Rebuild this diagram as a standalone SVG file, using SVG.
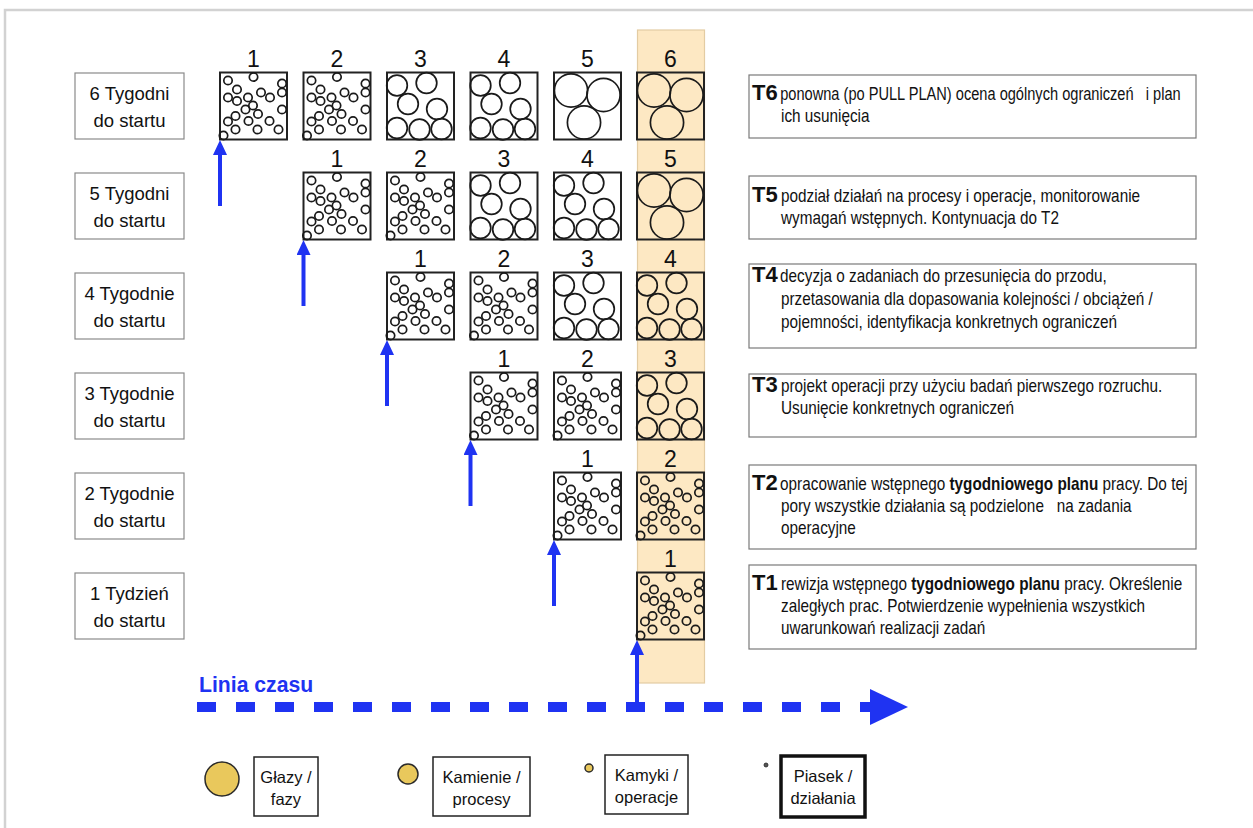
<svg xmlns="http://www.w3.org/2000/svg" xmlns:xlink="http://www.w3.org/1999/xlink" width="1253" height="828" viewBox="0 0 1253 828">
  <style>
    .frame { fill: none; stroke: #d2d2d2; stroke-width: 2.5; }
    .band { fill: #fde8c3; stroke: #e3cca3; stroke-width: 1.2; }
    .box { fill: none; stroke: #222; stroke-width: 2; }
    .c { fill: none; stroke: #1a1a1a; stroke-width: 1.7; }
    .num { font-family: "Liberation Sans", Arial, sans-serif; font-size: 23px; fill: #111; text-anchor: middle; }
    .lbl { fill: #fff; stroke: #8a8a8a; stroke-width: 1.2; }
    .lbltxt { font-family: "Liberation Sans", Arial, sans-serif; font-size: 18.5px; fill: #111; text-anchor: middle; }
    .desc { fill: #fff; stroke: #7a7a7a; stroke-width: 1.2; }
    .dtxt { font-family: "Liberation Sans", Arial, sans-serif; font-size: 17.5px; fill: #111; white-space: pre; }
    .tag { font-family: "Liberation Sans", Arial, sans-serif; font-size: 22px; font-weight: bold; fill: #111; }
    .b { font-weight: bold; }
    .up { stroke: #1f33f2; stroke-width: 4; fill: none; }
    .time { stroke: #1f33f2; stroke-width: 10; stroke-dasharray: 19 20; fill: none; }
    .timetxt { font-family: "Liberation Sans", Arial, sans-serif; font-size: 21.2px; font-weight: bold; fill: #1f33f2; }
    .leg { fill: #fff; stroke: #222; stroke-width: 1.5; }
    .legthick { fill: #fff; stroke: #111; stroke-width: 3.5; }
    .legtxt { font-family: "Liberation Sans", Arial, sans-serif; font-size: 16.5px; fill: #111; text-anchor: middle; }
    .gold { fill: #e9c85c; stroke: #2a2a2a; stroke-width: 1.5; }
  </style>
  <defs>
    <!-- sand: many small stones (operations) -->
    <g id="sand">
      <circle class="c" cx="8" cy="8" r="4.2"/>
      <circle class="c" cx="33.5" cy="4.5" r="4.2"/>
      <circle class="c" cx="62" cy="11" r="4.2"/>
      <circle class="c" cx="62" cy="20" r="4.2"/>
      <circle class="c" cx="17" cy="17" r="4.2"/>
      <circle class="c" cx="8" cy="25" r="4.2"/>
      <circle class="c" cx="17" cy="28.5" r="4.2"/>
      <circle class="c" cx="28" cy="25" r="4.2"/>
      <circle class="c" cx="41" cy="20" r="4.2"/>
      <circle class="c" cx="50" cy="25" r="4.2"/>
      <circle class="c" cx="25.5" cy="37" r="4.2"/>
      <circle class="c" cx="33" cy="33" r="4.2"/>
      <circle class="c" cx="38" cy="41.5" r="4.2"/>
      <circle class="c" cx="62" cy="37" r="4.2"/>
      <circle class="c" cx="15.5" cy="43.5" r="4.2"/>
      <circle class="c" cx="8" cy="49" r="4.2"/>
      <circle class="c" cx="28.5" cy="48.5" r="4.2"/>
      <circle class="c" cx="49.5" cy="48.5" r="4.2"/>
      <circle class="c" cx="15.5" cy="57" r="4.2"/>
      <circle class="c" cx="37.5" cy="57" r="4.2"/>
      <circle class="c" cx="58.5" cy="57" r="4.2"/>
      <circle class="c" cx="3.5" cy="63" r="4.2"/>
    </g>
    <!-- stones: medium circles (processes) -->
    <g id="stones">
      <circle class="c" cx="10" cy="13" r="10.3"/>
      <circle class="c" cx="39.5" cy="10.5" r="10.3"/>
      <circle class="c" cx="21" cy="31.5" r="10.3"/>
      <circle class="c" cx="50" cy="36.5" r="10.3"/>
      <circle class="c" cx="10" cy="55.5" r="10.3"/>
      <circle class="c" cx="32.5" cy="57" r="10.3"/>
      <circle class="c" cx="54.5" cy="56.5" r="10.3"/>
    </g>
    <!-- boulders: large circles (phases) -->
    <g id="boulders">
      <circle class="c" cx="17" cy="18" r="16.6"/>
      <circle class="c" cx="49.5" cy="22.5" r="16.6"/>
      <circle class="c" cx="30" cy="50" r="16.6"/>
    </g>
    <marker id="headUp" viewBox="0 0 15 14" refX="3" refY="7" markerWidth="15" markerHeight="14" markerUnits="userSpaceOnUse" orient="auto">
      <path d="M0,0 L15,7 L0,14 Z" fill="#1f33f2"/>
    </marker>
    <marker id="headTime" viewBox="0 0 38 36" refX="0" refY="18" markerWidth="38" markerHeight="36" markerUnits="userSpaceOnUse" orient="auto">
      <path d="M0,0 L38,18 L0,36 Z" fill="#1f33f2"/>
    </marker>
  </defs>

  <rect x="0" y="0" width="1253" height="828" fill="#fff"/>
  <rect class="frame" x="5" y="10" width="1262" height="840"/>

  <!-- highlighted current-week column -->
  <rect id="current-column" class="band" x="637.5" y="30" width="67" height="653"/>

  <!-- row labels -->
  <g id="row-6w"><rect class="lbl" x="75" y="73" width="109" height="66"/><text class="lbltxt" x="129.5" y="100">6 Tygodni</text><text class="lbltxt" x="129.5" y="127">do startu</text></g>
  <g id="row-5w"><rect class="lbl" x="75" y="173" width="109" height="66"/><text class="lbltxt" x="129.5" y="200">5 Tygodni</text><text class="lbltxt" x="129.5" y="227">do startu</text></g>
  <g id="row-4w"><rect class="lbl" x="75" y="273" width="109" height="66"/><text class="lbltxt" x="129.5" y="300">4 Tygodnie</text><text class="lbltxt" x="129.5" y="327">do startu</text></g>
  <g id="row-3w"><rect class="lbl" x="75" y="373" width="109" height="66"/><text class="lbltxt" x="129.5" y="400">3 Tygodnie</text><text class="lbltxt" x="129.5" y="427">do startu</text></g>
  <g id="row-2w"><rect class="lbl" x="75" y="473" width="109" height="66"/><text class="lbltxt" x="129.5" y="500">2 Tygodnie</text><text class="lbltxt" x="129.5" y="527">do startu</text></g>
  <g id="row-1w"><rect class="lbl" x="75" y="573" width="109" height="66"/><text class="lbltxt" x="129.5" y="600">1 Tydzień</text><text class="lbltxt" x="129.5" y="627">do startu</text></g>

  <!-- week 6 -->
  <g id="w6-1"><text class="num" x="253.5" y="67">1</text><rect class="box" x="220" y="72.5" width="67" height="67"/><use href="#sand" x="220" y="72.5"/></g>
  <g id="w6-2"><text class="num" x="337" y="67">2</text><rect class="box" x="303.5" y="72.5" width="67" height="67"/><use href="#sand" x="303.5" y="72.5"/></g>
  <g id="w6-3"><text class="num" x="420.5" y="67">3</text><rect class="box" x="387" y="72.5" width="67" height="67"/><use href="#stones" x="387" y="72.5"/></g>
  <g id="w6-4"><text class="num" x="504" y="67">4</text><rect class="box" x="470.5" y="72.5" width="67" height="67"/><use href="#stones" x="470.5" y="72.5"/></g>
  <g id="w6-5"><text class="num" x="587.5" y="67">5</text><rect class="box" x="554" y="72.5" width="67" height="67"/><use href="#boulders" x="554" y="72.5"/></g>
  <g id="w6-6"><text class="num" x="670.5" y="67">6</text><rect class="box" x="637" y="72.5" width="67" height="67"/><use href="#boulders" x="637" y="72.5"/></g>

  <!-- week 5 -->
  <g id="w5-1"><text class="num" x="337" y="167">1</text><rect class="box" x="303.5" y="172.5" width="67" height="67"/><use href="#sand" x="303.5" y="172.5"/></g>
  <g id="w5-2"><text class="num" x="420.5" y="167">2</text><rect class="box" x="387" y="172.5" width="67" height="67"/><use href="#sand" x="387" y="172.5"/></g>
  <g id="w5-3"><text class="num" x="504" y="167">3</text><rect class="box" x="470.5" y="172.5" width="67" height="67"/><use href="#stones" x="470.5" y="172.5"/></g>
  <g id="w5-4"><text class="num" x="587.5" y="167">4</text><rect class="box" x="554" y="172.5" width="67" height="67"/><use href="#stones" x="554" y="172.5"/></g>
  <g id="w5-5"><text class="num" x="670.5" y="167">5</text><rect class="box" x="637" y="172.5" width="67" height="67"/><use href="#boulders" x="637" y="172.5"/></g>

  <!-- week 4 -->
  <g id="w4-1"><text class="num" x="420.5" y="267">1</text><rect class="box" x="387" y="272.5" width="67" height="67"/><use href="#sand" x="387" y="272.5"/></g>
  <g id="w4-2"><text class="num" x="504" y="267">2</text><rect class="box" x="470.5" y="272.5" width="67" height="67"/><use href="#sand" x="470.5" y="272.5"/></g>
  <g id="w4-3"><text class="num" x="587.5" y="267">3</text><rect class="box" x="554" y="272.5" width="67" height="67"/><use href="#stones" x="554" y="272.5"/></g>
  <g id="w4-4"><text class="num" x="670.5" y="267">4</text><rect class="box" x="637" y="272.5" width="67" height="67"/><use href="#stones" x="637" y="272.5"/></g>

  <!-- week 3 -->
  <g id="w3-1"><text class="num" x="504" y="367">1</text><rect class="box" x="470.5" y="372.5" width="67" height="67"/><use href="#sand" x="470.5" y="372.5"/></g>
  <g id="w3-2"><text class="num" x="587.5" y="367">2</text><rect class="box" x="554" y="372.5" width="67" height="67"/><use href="#sand" x="554" y="372.5"/></g>
  <g id="w3-3"><text class="num" x="670.5" y="367">3</text><rect class="box" x="637" y="372.5" width="67" height="67"/><use href="#stones" x="637" y="372.5"/></g>

  <!-- week 2 -->
  <g id="w2-1"><text class="num" x="587.5" y="467">1</text><rect class="box" x="554" y="472.5" width="67" height="67"/><use href="#sand" x="554" y="472.5"/></g>
  <g id="w2-2"><text class="num" x="670.5" y="467">2</text><rect class="box" x="637" y="472.5" width="67" height="67"/><use href="#sand" x="637" y="472.5"/></g>

  <!-- week 1 -->
  <g id="w1-1"><text class="num" x="670.5" y="567">1</text><rect class="box" x="637" y="572.5" width="67" height="67"/><use href="#sand" x="637" y="572.5"/></g>

  <!-- descriptions: body lines are narrowed horizontally about x=781 -->
  <g id="desc-t6"><rect class="desc" x="749" y="75" width="447" height="63"/>
    <text class="tag" x="752" y="100">T6</text>
    <g transform="matrix(0.835 0 0 1 128.9 0)">
      <text class="dtxt" x="780" y="100">ponowna (po PULL PLAN) ocena ogólnych ograniczeń   i plan</text>
    </g>
    <g transform="matrix(0.875 0 0 1 97.6 0)">
      <text class="dtxt" x="781" y="122">ich usunięcia</text>
    </g></g>
  <g id="desc-t5"><rect class="desc" x="749" y="176" width="447" height="63"/>
    <text class="tag" x="752" y="202">T5</text>
    <g transform="matrix(0.875 0 0 1 97.6 0)">
      <text class="dtxt" x="781" y="202">podział działań na procesy i operacje, monitorowanie</text>
      <text class="dtxt" x="781" y="224">wymagań wstępnych. Kontynuacja do T2</text>
    </g></g>
  <g id="desc-t4"><rect class="desc" x="749" y="264" width="447" height="84"/>
    <text class="tag" x="752" y="282">T4</text>
    <g transform="matrix(0.875 0 0 1 97.6 0)">
      <text class="dtxt" x="780" y="282">decyzja o zadaniach do przesunięcia do przodu,</text>
      <text class="dtxt" x="781" y="305">przetasowania dla dopasowania kolejności / obciążeń /</text>
      <text class="dtxt" x="781" y="328">pojemności, identyfikacja konkretnych ograniczeń</text>
    </g></g>
  <g id="desc-t3"><rect class="desc" x="749" y="374" width="447" height="63"/>
    <text class="tag" x="752" y="392">T3</text>
    <g transform="matrix(0.875 0 0 1 97.6 0)">
      <text class="dtxt" x="781" y="392">projekt operacji przy użyciu badań pierwszego rozruchu.</text>
      <text class="dtxt" x="781" y="414">Usunięcie konkretnych ograniczeń</text>
    </g></g>
  <g id="desc-t2"><rect class="desc" x="749" y="465" width="447" height="84"/>
    <text class="tag" x="752" y="490">T2</text>
    <g transform="matrix(0.875 0 0 1 97.6 0)">
      <text class="dtxt" x="780" y="490">opracowanie wstępnego <tspan class="b">tygodniowego planu</tspan> pracy. Do tej</text>
      <text class="dtxt" x="781" y="512">pory wszystkie działania są podzielone   na zadania</text>
      <text class="dtxt" x="781" y="534">operacyjne</text>
    </g></g>
  <g id="desc-t1"><rect class="desc" x="749" y="565" width="447" height="84"/>
    <text class="tag" x="752" y="590">T1</text>
    <g transform="matrix(0.875 0 0 1 97.6 0)">
      <text class="dtxt" x="781" y="590">rewizja wstępnego <tspan class="b">tygodniowego planu</tspan> pracy. Określenie</text>
      <text class="dtxt" x="781" y="612">zaległych prac. Potwierdzenie wypełnienia wszystkich</text>
      <text class="dtxt" x="781" y="634">uwarunkowań realizacji zadań</text>
    </g></g>

  <!-- timeline -->
  <g id="timeline-label"><text class="timetxt" x="199" y="692">Linia czasu</text></g>

  <g id="connectors">
    <line class="time" x1="197" y1="707" x2="870" y2="707" marker-end="url(#headTime)"/>
    <line class="up" x1="220" y1="206" x2="220" y2="152" marker-end="url(#headUp)"/>
    <line class="up" x1="303.5" y1="306" x2="303.5" y2="252" marker-end="url(#headUp)"/>
    <line class="up" x1="387" y1="406" x2="387" y2="352" marker-end="url(#headUp)"/>
    <line class="up" x1="470.5" y1="506" x2="470.5" y2="452" marker-end="url(#headUp)"/>
    <line class="up" x1="554" y1="606" x2="554" y2="552" marker-end="url(#headUp)"/>
    <line class="up" x1="637" y1="710" x2="637" y2="652" marker-end="url(#headUp)"/>
  </g>

  <!-- legend -->
  <g id="legend-phases"><circle class="gold" cx="222" cy="779" r="17"/><rect class="leg" x="254" y="757" width="64" height="59"/><text class="legtxt" x="286" y="783">Głazy /</text><text class="legtxt" x="286" y="805">fazy</text></g>
  <g id="legend-processes"><circle class="gold" cx="408" cy="774" r="10"/><rect class="leg" x="433" y="757" width="97" height="59"/><text class="legtxt" x="481.5" y="783">Kamienie /</text><text class="legtxt" x="481.5" y="805">procesy</text></g>
  <g id="legend-operations"><circle class="gold" cx="589" cy="768" r="4"/><rect class="leg" x="605" y="755" width="83" height="59"/><text class="legtxt" x="646.5" y="781">Kamyki /</text><text class="legtxt" x="646.5" y="803">operacje</text></g>
  <g id="legend-activities"><circle cx="766" cy="765" r="2" fill="#555" stroke="#222" stroke-width="0.8"/><rect class="legthick" x="781" y="756" width="84" height="61"/><text class="legtxt" x="823" y="782">Piasek /</text><text class="legtxt" x="823" y="804">działania</text></g>
</svg>
